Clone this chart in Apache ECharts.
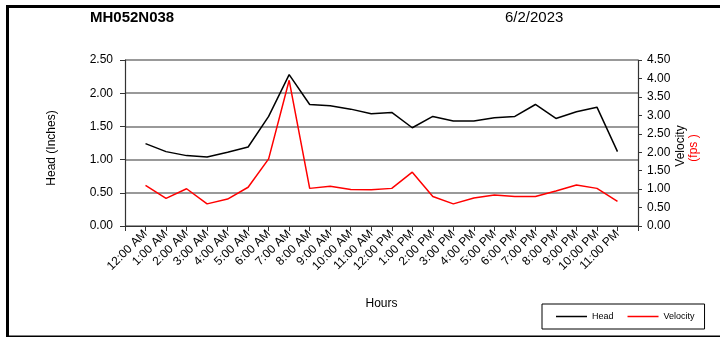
<!DOCTYPE html>
<html>
<head>
<meta charset="utf-8">
<script src="https://cdn.jsdelivr.net/npm/echarts@6/dist/echarts.min.js"></script>
<style>
  html, body { margin: 0; padding: 0; background: #fff; }
  #chart { width: 720px; height: 338px; }
</style>
</head>
<body>
<div id="chart"></div>
<script>
// hours on the category axis (blank slot at both ends, like the source sheet)
const hours = ['12:00 AM','1:00 AM','2:00 AM','3:00 AM','4:00 AM','5:00 AM','6:00 AM','7:00 AM',
  '8:00 AM','9:00 AM','10:00 AM','11:00 AM','12:00 PM','1:00 PM','2:00 PM','3:00 PM',
  '4:00 PM','5:00 PM','6:00 PM','7:00 PM','8:00 PM','9:00 PM','10:00 PM','11:00 PM'];

// head in inches (left axis)
const headVals = [1.24, 1.12, 1.06, 1.04, 1.11, 1.19, 1.65, 2.28, 1.83, 1.81, 1.76, 1.69,
  1.71, 1.48, 1.65, 1.58, 1.58, 1.63, 1.65, 1.83, 1.62, 1.72, 1.79, 1.12];

// velocity in fps (right axis)
const velVals = [1.10, 0.75, 1.01, 0.60, 0.73, 1.05, 1.82, 3.95, 1.02, 1.08, 0.99, 0.98,
  1.02, 1.46, 0.80, 0.60, 0.76, 0.84, 0.80, 0.80, 0.95, 1.11, 1.02, 0.67];

const cats = [''].concat(hours, ['']);
const pad = arr => [null].concat(arr, [null]);

const chart = echarts.init(document.getElementById('chart'));
const font = 'Liberation Sans, Arial, sans-serif';

chart.setOption({
  animation: false,
  textStyle: { fontFamily: font },
  grid: { left: 125, right: 82, top: 60, bottom: 112 },
  legend: {
    left: 542, top: 304,
    width: 150,
    padding: [8, 10, 8, 14],
    borderColor: '#000', borderWidth: 1,
    icon: 'rect',
    itemWidth: 31, itemHeight: 1.5, itemGap: 14,
    textStyle: { fontSize: 9, color: '#000' },
    data: ['Head', 'Velocity']
  },
  xAxis: {
    type: 'category',
    data: cats,
    boundaryGap: false,
    axisLine: { lineStyle: { color: '#333', width: 1.2 } },
    axisTick: { interval: 0, length: 5, lineStyle: { color: '#333' } },
    axisLabel: { interval: 0, rotate: 45, fontSize: 12, color: '#000', margin: 6 },
    name: 'Hours', nameLocation: 'middle', nameGap: 72,
    nameTextStyle: { fontSize: 12, color: '#000' }
  },
  yAxis: [
    {
      type: 'value', min: 0, max: 2.5, interval: 0.5,
      axisLine: { show: true, lineStyle: { color: '#333', width: 1.2 } },
      axisTick: { show: true, length: 5, lineStyle: { color: '#333' } },
      axisLabel: { fontSize: 12, color: '#000', margin: 12, formatter: v => v.toFixed(2) },
      splitLine: { lineStyle: { color: '#777', width: 1.5 } }
    },
    {
      type: 'value', min: 0, max: 4.5, interval: 0.5,
      axisLine: { show: true, lineStyle: { color: '#333', width: 1.2 } },
      axisTick: { show: true, length: 4, lineStyle: { color: '#333' } },
      axisLabel: { fontSize: 12, color: '#000', margin: 9, formatter: v => v.toFixed(2) },
      splitLine: { show: false }
    }
  ],
  graphic: [
    { type: 'rect', shape: { x: 6, y: 5, width: 3, height: 332 }, style: { fill: '#000' } },
    { type: 'rect', shape: { x: 6, y: 5, width: 714, height: 3 }, style: { fill: '#000' } },
    { type: 'rect', shape: { x: 6, y: 335.5, width: 714, height: 1.5 }, style: { fill: '#000' } },
    { type: 'text', left: 90, top: 10,
      style: { text: 'MH052N038', font: 'bold 15px ' + font, fill: '#000' } },
    { type: 'text', left: 505, top: 10,
      style: { text: '6/2/2023', font: '15px ' + font, fill: '#000' } },
    { type: 'text', x: 52, y: 148, rotation: Math.PI / 2,
      style: { text: 'Head (Inches)', font: '12px ' + font, fill: '#000',
               align: 'center', verticalAlign: 'middle' } },
    { type: 'text', x: 681, y: 146, rotation: Math.PI / 2,
      style: { text: 'Velocity', font: '12px ' + font, fill: '#000',
               align: 'center', verticalAlign: 'middle' } },
    { type: 'text', x: 694, y: 148, rotation: Math.PI / 2,
      style: { text: '(fps )', font: '12px ' + font, fill: '#ff0000',
               align: 'center', verticalAlign: 'middle' } }
  ],
  series: [
    {
      name: 'Head', type: 'line', yAxisIndex: 0,
      data: pad(headVals), symbol: 'none',
      lineStyle: { color: '#000', width: 1.5 }, itemStyle: { color: '#000' }
    },
    {
      name: 'Velocity', type: 'line', yAxisIndex: 1,
      data: pad(velVals), symbol: 'none',
      lineStyle: { color: '#ff0000', width: 1.5 }, itemStyle: { color: '#ff0000' }
    }
  ]
});
</script>
</body>
</html>
